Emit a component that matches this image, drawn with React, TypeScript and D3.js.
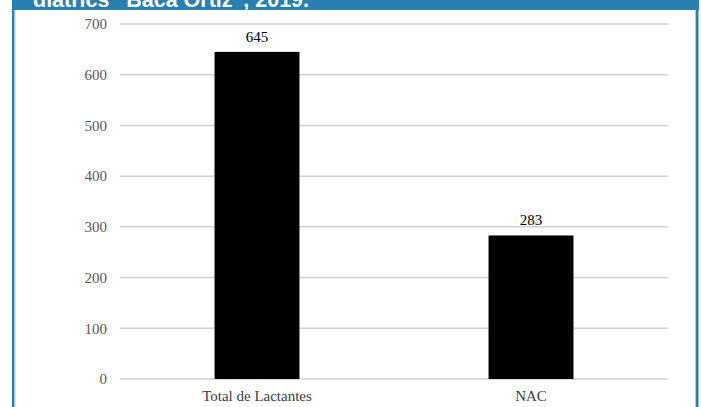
import React from "react";
import * as d3 from "d3";

const categories = ["Total de Lactantes", "NAC"];
const values = [645, 283];
const yTicks = [0, 100, 200, 300, 400, 500, 600, 700];
const headerText = "diatrics \u201cBaca Ortiz\u201d, 2019.";

const W = 701;
const H = 407;
const serif = "'Liberation Serif', 'Times New Roman', serif";

export default function App() {
  const x = d3.scaleBand<string>().domain(categories).range([120, 668]).padding(0);
  const y = d3.scaleLinear().domain([0, 700]).range([379, 24]);
  const barW = x.bandwidth() * 0.31;

  return (
    <svg
      width={W}
      height={H}
      style={{ position: "absolute", left: 0, top: 0, display: "block" }}
    >
      <rect x={0} y={0} width={W} height={H} fill="#ffffff" />
      {/* header band */}
      <rect x={12} y={0} width={687} height={10} fill="#2a7fb1" />
      <text
        x={33}
        y={6.5}
        fill="#ffffff"
        fontFamily="'Liberation Sans', Arial, sans-serif"
        fontWeight="bold"
        fontSize={21.5}
      >
        {headerText}
      </text>
      {/* frame sides */}
      <rect x={12} y={0} width={2.5} height={H} fill="#2a7fb1" />
      <rect x={14.5} y={10} width={1} height={H} fill="#9fd0ea" />
      <rect x={696} y={0} width={2.5} height={H} fill="#2a7fb1" />
      <rect x={695} y={10} width={1} height={H} fill="#9fd0ea" />

      {/* gridlines and tick labels */}
      {yTicks.map((t) => (
        <g key={t}>
          <line
            x1={120}
            x2={668}
            y1={y(t)}
            y2={y(t)}
            stroke="#d0d0d0"
            strokeWidth={1.5}
          />
          <text
            x={107}
            y={y(t)}
            dy="0.35em"
            textAnchor="end"
            fontFamily={serif}
            fontSize={15}
            fill="#595959"
          >
            {t}
          </text>
        </g>
      ))}

      {/* bars with value labels */}
      {categories.map((c, i) => {
        const cx = (x(c) ?? 0) + x.bandwidth() / 2;
        return (
          <g key={c}>
            <rect
              x={cx - barW / 2}
              y={y(values[i])}
              width={barW}
              height={y(0) - y(values[i])}
              fill="#000000"
            />
            <text
              x={cx}
              y={y(values[i]) - 10}
              textAnchor="middle"
              fontFamily={serif}
              fontSize={15}
              fill="#000000"
            >
              {values[i]}
            </text>
            <text
              x={cx}
              y={401}
              textAnchor="middle"
              fontFamily={serif}
              fontSize={15}
              fill="#404040"
            >
              {c}
            </text>
          </g>
        );
      })}
    </svg>
  );
}
